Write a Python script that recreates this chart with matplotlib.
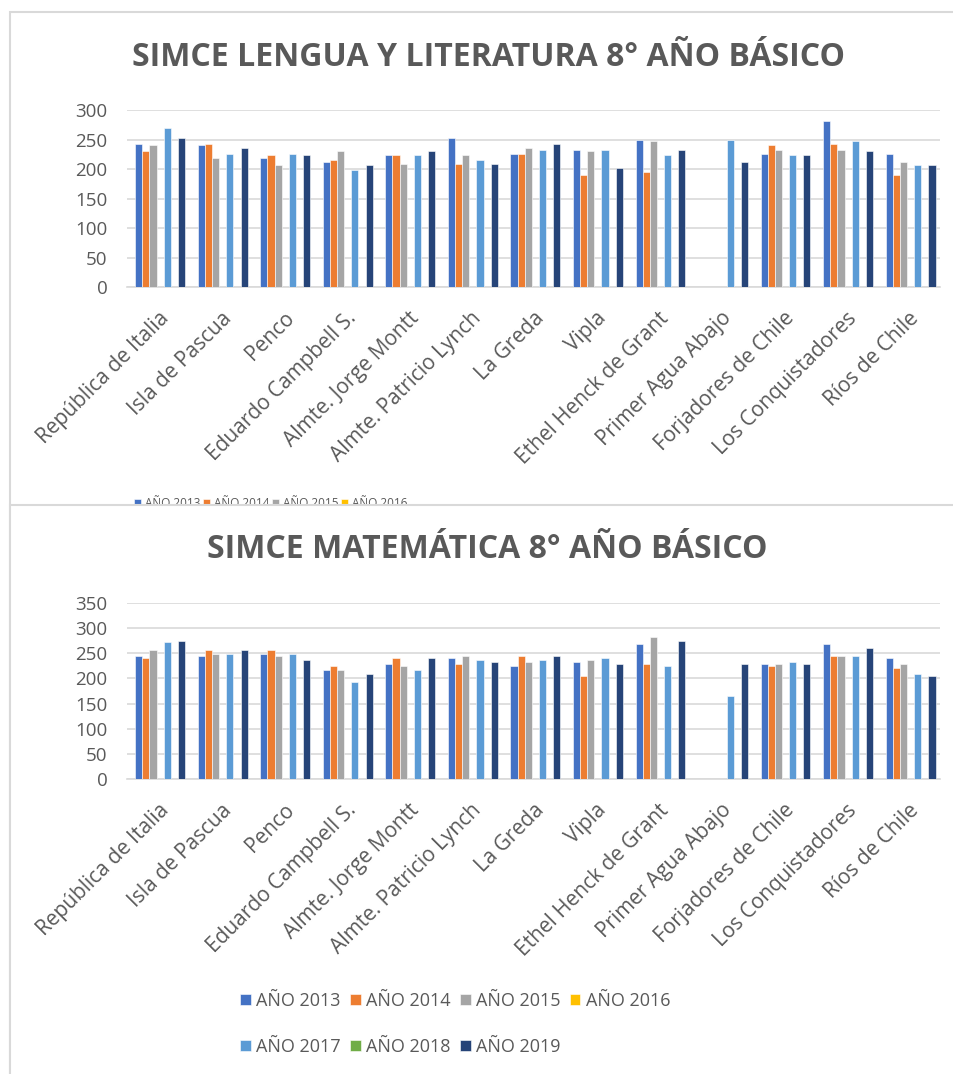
import numpy as np
import matplotlib
matplotlib.use("Agg")
import matplotlib.pyplot as plt
from matplotlib.patches import Rectangle

# Escuelas (categorías del eje X)
schools = ['República de Italia', 'Isla de Pascua', 'Penco', 'Eduardo Campbell S.',
           'Almte. Jorge Montt', 'Almte. Patricio Lynch', 'La Greda', 'Vipla',
           'Ethel Henck de Grant', 'Primer Agua Abajo', 'Forjadores de Chile',
           'Los Conquistadores', 'Ríos de Chile']

years = ['AÑO 2013', 'AÑO 2014', 'AÑO 2015', 'AÑO 2016', 'AÑO 2017', 'AÑO 2018', 'AÑO 2019']
colors = ['#4472C4', '#ED7D31', '#A5A5A5', '#FFC000', '#5B9BD5', '#70AD47', '#264478']

nan = np.nan
empty = [nan] * 13

# SIMCE Lengua y Literatura
leng_2013 = [243, 240, 219, 212, 223, 253, 226, 233, 250, nan, 226, 281, 226]
leng_2014 = [230, 243, 223, 216, 223, 209, 226, 189, 195, nan, 240, 243, 189]
leng_2015 = [240, 219, 206, 230, 209, 223, 236, 230, 247, nan, 233, 233, 212]
leng_2017 = [270, 226, 226, 199, 223, 216, 233, 233, 223, 250, 223, 247, 206]
leng_2019 = [253, 236, 223, 206, 230, 209, 243, 202, 233, 212, 223, 230, 206]

# SIMCE Matemática
mat_2013 = [244, 244, 248, 216, 228, 240, 224, 232, 268, nan, 228, 268, 240]
mat_2014 = [240, 256, 256, 224, 240, 228, 244, 204, 228, nan, 224, 244, 220]
mat_2015 = [256, 248, 244, 216, 224, 244, 232, 236, 283, nan, 228, 244, 228]
mat_2017 = [272, 248, 248, 192, 216, 236, 236, 240, 224, 165, 232, 244, 208]
mat_2019 = [275, 256, 236, 208, 240, 232, 244, 228, 275, 228, 228, 260, 204]

leng = [leng_2013, leng_2014, leng_2015, empty, leng_2017, empty, leng_2019]
mat = [mat_2013, mat_2014, mat_2015, empty, mat_2017, empty, mat_2019]

plt.rcParams['font.family'] = ['Open Sans', 'DejaVu Sans']
gray_txt = '#595959'
grid_c = '#D9D9D9'

W, H = 954, 1074
fig = plt.figure(figsize=(W / 100, H / 100), dpi=100)


def px(x0, y0, x1, y1):
    # pixel box (top-left origin) -> figure fraction [left, bottom, width, height]
    return [x0 / W, 1 - y1 / H, (x1 - x0) / W, (y1 - y0) / H]


def draw_chart(ax, series, ymax, legend_y, legend_x, leg_size, col_sp, row_sp, order):
    x = np.arange(len(schools))
    bw = 0.114
    handles = []
    for i, (vals, c) in enumerate(zip(series, colors)):
        b = ax.bar(x + (i - 3) * bw + 0.03, vals, width=bw, color=c,
                   edgecolor='white', linewidth=0.4, zorder=3)
        handles.append(b)
    ax.set_xlim(-0.5, len(schools) - 0.5)
    ax.set_ylim(0, ymax)
    ax.set_yticks(np.arange(0, ymax + 1, 50))
    ax.yaxis.grid(True, color=grid_c, linewidth=1.2, zorder=0)
    ax.set_axisbelow(True)
    for s in ['top', 'right', 'left']:
        ax.spines[s].set_visible(False)
    ax.spines['bottom'].set_color(grid_c)
    ax.spines['bottom'].set_linewidth(1.2)
    ax.tick_params(length=0, colors=gray_txt, labelsize=13.5)
    ax.tick_params(axis='y', pad=14)
    ax.set_xticks(x)
    ax.set_xticklabels(schools, rotation=45, ha='right', rotation_mode='anchor',
                       fontsize=15, color=gray_txt)
    ax.tick_params(axis='x', pad=15)
    leg = ax.legend([handles[k] for k in order], [years[k] for k in order],
                    ncol=4, loc='upper left', frameon=False,
                    bbox_to_anchor=(legend_x / W, 1 - legend_y / H),
                    bbox_transform=fig.transFigure,
                    fontsize=leg_size, labelcolor=gray_txt,
                    handlelength=0.6, handleheight=0.6, handletextpad=0.3,
                    columnspacing=col_sp, labelspacing=row_sp, borderpad=0,
                    borderaxespad=0)
    return leg


# panel frames
fig.patches.append(Rectangle((10 / W, 0), 1.2, 1 - 12 / H, transform=fig.transFigure,
                             facecolor='white', edgecolor=grid_c, linewidth=1.5, zorder=-2))

# top chart: its legend is cut off by the lower panel, only the first row shows
ax1 = fig.add_axes(px(127, 110, 940, 287))
ax1.set_zorder(0)
draw_chart(ax1, leng, 300, 497, 134, 8.5, 0.25, 1.5, [0, 1, 2, 3])

# bottom panel covers the clipped legend of the top chart
fig.patches.append(Rectangle((10 / W, -0.1), 1.2, 0.1 + (H - 505) / H, transform=fig.transFigure,
                             facecolor='white', edgecolor=grid_c, linewidth=1.5, zorder=1))

# legend in row order (4 + 3)
ax2 = fig.add_axes(px(127, 603, 940, 779))
ax2.set_zorder(2)
draw_chart(ax2, mat, 350, 992, 240, 13, 0.5, 1.55, [0, 4, 1, 5, 2, 6, 3])

fig.text(489 / W, 1 - 58 / H, 'SIMCE LENGUA Y LITERATURA 8° AÑO BÁSICO', ha='center', va='center',
         fontsize=23, fontweight='bold', color=gray_txt, zorder=3)
fig.text(487 / W, 1 - 549 / H, 'SIMCE MATEMÁTICA 8° AÑO BÁSICO', ha='center', va='center',
         fontsize=23, fontweight='bold', color=gray_txt, zorder=3)

fig.savefig('out.png', dpi=100, facecolor='white')
